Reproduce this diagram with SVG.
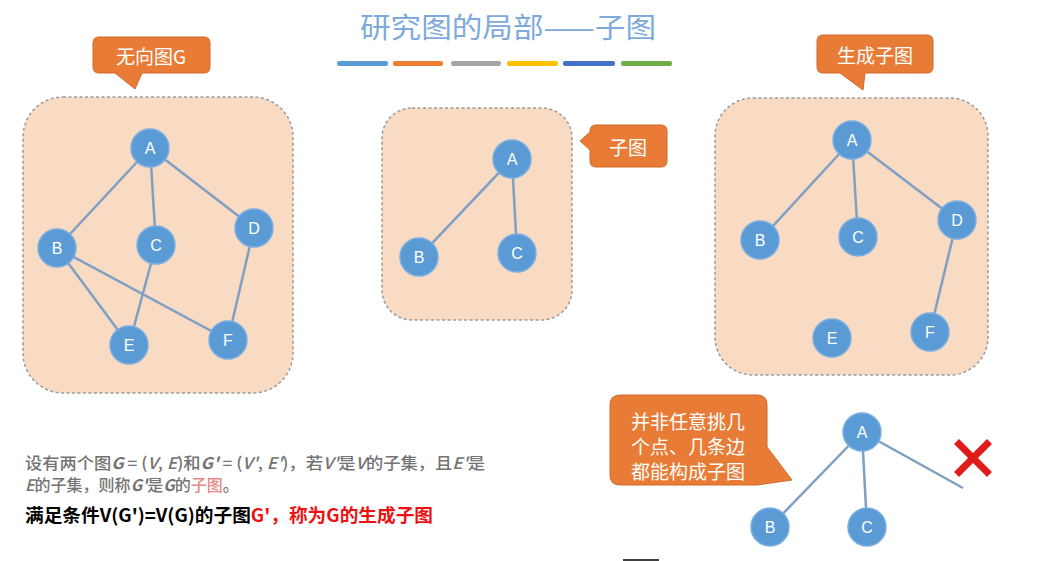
<svg xmlns="http://www.w3.org/2000/svg" width="1059" height="561" viewBox="0 0 1059 561">
  <style>
    .panel { fill: #f9dac3; stroke: #9a9a9a; stroke-width: 1.5; stroke-dasharray: 3 2.5; }
    .callout { fill: #e87b36; stroke: #d06a2a; stroke-width: 1; }
    .ctext { fill: #ffffff; font-family: "Noto Sans CJK SC", "Liberation Sans", sans-serif; font-size: 19px; text-anchor: middle; dominant-baseline: central; }
    .node circle { fill: #5b9bd5; stroke: #7aaee0; stroke-width: 1.5; }
    .node text { fill: #ffffff; font-family: "Liberation Sans", "DejaVu Sans", sans-serif; font-size: 16px; text-anchor: middle; dominant-baseline: central; }
    .edge { stroke: #7f9fc3; stroke-width: 2.5; fill: none; }
    .body { font-family: "Noto Sans CJK SC", "Liberation Sans", sans-serif; }
  </style>

  <!-- title and colour strip -->
  <g id="title">
    <text x="508" y="26" fill="#7eaadb" font-family="Noto Sans CJK SC, Liberation Sans, sans-serif" font-size="28" text-anchor="middle" dominant-baseline="central" textLength="296" lengthAdjust="spacingAndGlyphs">研究图的局部——子图</text>
    <rect x="337" y="61" width="51" height="5" rx="2" fill="#5b9bd5"/>
    <rect x="393" y="61" width="50" height="5" rx="2" fill="#ed7d31"/>
    <rect x="451" y="61" width="50" height="5" rx="2" fill="#a5a5a5"/>
    <rect x="507" y="61" width="51" height="5" rx="2" fill="#ffc000"/>
    <rect x="563" y="61" width="52" height="5" rx="2" fill="#4472c4"/>
    <rect x="621" y="61" width="51" height="5" rx="2" fill="#70ad47"/>
  </g>

  <!-- panels -->
  <rect id="panel-g" class="panel" x="23" y="97" width="270" height="296" rx="40"/>
  <rect id="panel-sub" class="panel" x="382" y="108" width="190" height="212" rx="30"/>
  <rect id="panel-span" class="panel" x="715" y="98" width="273" height="277" rx="38"/>

  <!-- callouts -->
  <g id="callout-g">
    <path class="callout" d="M99,37 H204 Q210,37 210,43 V67 Q210,73 204,73 H142 L135,89 L115,73 H99 Q93,73 93,67 V43 Q93,37 99,37 Z"/>
    <text class="ctext" x="151" y="55">无向图G</text>
  </g>
  <g id="callout-sub">
    <path class="callout" d="M596,125 H661 Q667,125 667,131 V161 Q667,167 661,167 H596 Q590,167 590,161 V150 L580,141 L590,132 V131 Q590,125 596,125 Z"/>
    <text class="ctext" x="628" y="146">子图</text>
  </g>
  <g id="callout-span">
    <path class="callout" d="M823,35 H927 Q933,35 933,41 V67 Q933,73 927,73 H865 L863,90 L840,73 H823 Q817,73 817,67 V41 Q817,35 823,35 Z"/>
    <text class="ctext" x="875" y="54">生成子图</text>
  </g>
  <g id="callout-note">
    <path class="callout" d="M620,395 H757 Q767,395 767,405 V447 L792,480 L757,485 H620 Q610,485 610,475 V405 Q610,395 620,395 Z"/>
    <text class="ctext" x="688" y="420">并非任意挑几</text>
    <text class="ctext" x="688" y="445">个点、几条边</text>
    <text class="ctext" x="688" y="470">都能构成子图</text>
  </g>

  <!-- connectors -->
  <g id="edges">
    <!-- graph G -->
    <line class="edge" x1="150" y1="148" x2="57" y2="248"/>
    <line class="edge" x1="150" y1="148" x2="156" y2="245"/>
    <line class="edge" x1="150" y1="148" x2="254" y2="228"/>
    <line class="edge" x1="57" y1="248" x2="129" y2="345"/>
    <line class="edge" x1="57" y1="248" x2="228" y2="340"/>
    <line class="edge" x1="156" y1="245" x2="129" y2="345"/>
    <line class="edge" x1="254" y1="228" x2="228" y2="340"/>
    <!-- subgraph -->
    <line class="edge" x1="512" y1="159" x2="419" y2="257"/>
    <line class="edge" x1="512" y1="159" x2="517" y2="253"/>
    <!-- spanning subgraph -->
    <line class="edge" x1="852" y1="140" x2="760" y2="240"/>
    <line class="edge" x1="852" y1="140" x2="858" y2="237"/>
    <line class="edge" x1="852" y1="140" x2="957" y2="220"/>
    <line class="edge" x1="957" y1="220" x2="930" y2="332"/>
    <!-- invalid example -->
    <line class="edge" x1="862" y1="432" x2="770" y2="527"/>
    <line class="edge" x1="862" y1="432" x2="867" y2="527"/>
    <line class="edge" x1="862" y1="432" x2="963" y2="488"/>
  </g>

  <!-- graph G nodes -->
  <g id="g-A" class="node"><circle cx="150" cy="148" r="19"/><text x="150" y="148">A</text></g>
  <g id="g-B" class="node"><circle cx="57" cy="248" r="19"/><text x="57" y="248">B</text></g>
  <g id="g-C" class="node"><circle cx="156" cy="245" r="19"/><text x="156" y="245">C</text></g>
  <g id="g-D" class="node"><circle cx="254" cy="228" r="19"/><text x="254" y="228">D</text></g>
  <g id="g-E" class="node"><circle cx="129" cy="345" r="19"/><text x="129" y="345">E</text></g>
  <g id="g-F" class="node"><circle cx="228" cy="340" r="19"/><text x="228" y="340">F</text></g>

  <!-- subgraph nodes -->
  <g id="s-A" class="node"><circle cx="512" cy="159" r="19"/><text x="512" y="159">A</text></g>
  <g id="s-B" class="node"><circle cx="419" cy="257" r="19"/><text x="419" y="257">B</text></g>
  <g id="s-C" class="node"><circle cx="517" cy="253" r="19"/><text x="517" y="253">C</text></g>

  <!-- spanning subgraph nodes -->
  <g id="t-A" class="node"><circle cx="852" cy="140" r="19"/><text x="852" y="140">A</text></g>
  <g id="t-B" class="node"><circle cx="760" cy="240" r="19"/><text x="760" y="240">B</text></g>
  <g id="t-C" class="node"><circle cx="858" cy="237" r="19"/><text x="858" y="237">C</text></g>
  <g id="t-D" class="node"><circle cx="957" cy="220" r="19"/><text x="957" y="220">D</text></g>
  <g id="t-E" class="node"><circle cx="832" cy="338" r="19"/><text x="832" y="338">E</text></g>
  <g id="t-F" class="node"><circle cx="930" cy="332" r="19"/><text x="930" y="332">F</text></g>

  <!-- invalid example nodes -->
  <g id="x-A" class="node"><circle cx="862" cy="432" r="19"/><text x="862" y="432">A</text></g>
  <g id="x-B" class="node"><circle cx="770" cy="527" r="19"/><text x="770" y="527">B</text></g>
  <g id="x-C" class="node"><circle cx="867" cy="527" r="19"/><text x="867" y="527">C</text></g>

  <!-- red cross -->
  <g id="cross" stroke="#e01b1b" stroke-width="7" stroke-linecap="square">
    <line x1="959" y1="444" x2="987" y2="472"/>
    <line x1="987" y1="444" x2="959" y2="472"/>
  </g>

  <!-- definition text -->
  <g id="definition" class="body">
    <text x="25" y="469" font-size="16" font-weight="500" fill="#737373" textLength="460" lengthAdjust="spacingAndGlyphs">设有两个图<tspan font-style="italic" font-weight="bold">G</tspan> = (<tspan font-style="italic">V</tspan>, <tspan font-style="italic">E</tspan>)和<tspan font-style="italic" font-weight="bold">G'</tspan> = (<tspan font-style="italic">V'</tspan>, <tspan font-style="italic">E'</tspan>)，若<tspan font-style="italic">V'</tspan>是<tspan font-style="italic">V</tspan>的子集，且<tspan font-style="italic">E'</tspan>是</text>
    <text x="25" y="491" font-size="16" font-weight="500" fill="#737373"><tspan font-style="italic">E</tspan>的子集，则称<tspan font-style="italic" font-weight="bold">G'</tspan>是<tspan font-style="italic" font-weight="bold">G</tspan>的<tspan fill="#e58a8a">子图</tspan>。</text>
    <text x="25" y="522" font-size="18" font-weight="bold" fill="#000000" textLength="408" lengthAdjust="spacingAndGlyphs">满足条件V(G')=V(G)的子图<tspan fill="#ee1111">G'，称为G的生成子图</tspan></text>
  </g>

  <!-- short rule at bottom -->
  <line x1="623" y1="560" x2="659" y2="560" stroke="#000000" stroke-width="1.5"/>
</svg>
